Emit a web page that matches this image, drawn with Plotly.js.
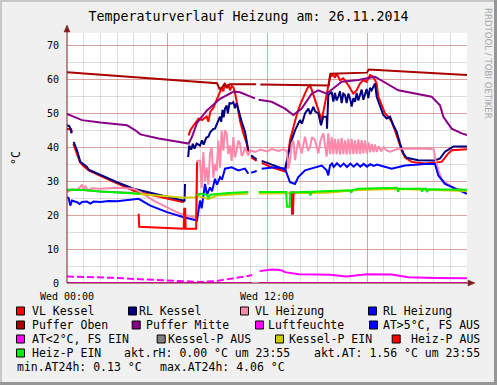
<!DOCTYPE html>
<html><head><meta charset="utf-8">
<script src="https://cdn.plot.ly/plotly-3.0.1.min.js"></script>
<style>html,body{margin:0;padding:0;background:#f0f0f0;}#chart{width:497px;height:385px;}</style>
</head><body><div id="chart"></div>
<script>
// ---------- data (time in hours since Wed 00:00, value in °C) ----------
const xTickVals = [0, 6, 12, 18, 24];
const xTickText = ["Wed 00:00", "", "Wed 12:00", "", ""];
const yTickVals = [0, 10, 20, 30, 40, 50, 60, 70];
const yTickText = ["0", "10", "20", "30", "40", "50", "60", "70"];

const vlKessel = [[0,45.4],[0.25,45.4],[0.3,44.4],[0.33,null],[0.38,41.0],[0.55,38.6],[0.78,35.6],[1.0,34.4],[1.3,33.2],[2.0,31.6],[3.0,29.3],[4.0,27.2],[5.0,26.0],[6.0,25.0],[7.0,23.8],[7.05,null],
[7.3,43.5],[7.4,45.0],[7.6,46.5],[7.9,48.5],[8.1,48.0],[8.38,49.1],[8.48,47.5],[8.6,50.5],[8.78,51.6],[8.98,53.8],[9.08,54.9],[9.18,56.5],[9.28,57.5],[9.38,56.5],[9.48,58.8],[9.58,57.6],[9.68,58.5],[9.78,56.8],[9.88,58.0],[9.98,57.7],[10.08,56.0],[10.18,53.5],[10.28,50.5],[10.38,47.8],[10.58,44.1],[10.78,41.1],[10.88,38.7],[10.95,null],[11.05,37.0],[11.38,36.0],[11.45,null],[11.68,35.4],[12.28,34.1],[13.08,32.9],[13.2,35.5],[13.38,42.1],[13.58,46.0],[13.78,49.5],[13.98,52.4],[14.18,54.9],[14.38,57.0],[14.48,57.8],[14.58,58.3],[14.68,57.0],[14.78,55.4],[14.98,52.4],[15.18,49.5],[15.28,48.0],[15.48,52.9],[15.68,57.8],[15.78,60.8],[15.98,61.3],[16.08,60.5],[16.18,61.7],[16.38,59.8],[16.58,60.3],[16.88,58.3],[17.18,55.8],[17.38,56.8],[17.58,58.8],[17.78,59.8],[17.98,59.3],[18.18,61.3],[18.38,60.8],[18.58,58.8],[18.68,54.9],[18.88,52.4],[19.08,50.0],[19.28,49.0],[19.48,47.5],[19.68,45.0],[19.88,42.1],[20.08,39.1],[20.28,37.0],[20.68,35.7],[21.48,35.2],[22.08,35.4],[22.48,35.7],[22.88,38.2],[23.08,39.1],[24,39.4]];

const rlKessel = [[0,46.5],[0.15,46.2],[0.28,44.1],[0.32,null],[0.4,41.6],[0.6,39.1],[0.8,35.7],[1.2,34.2],[1.3,33.4],[2.0,31.9],[3.0,29.7],[4.0,27.8],[5.0,26.6],[6.0,25.5],[7.0,24.3],[7.05,24.0],[7.08,29.2],[7.12,null],[7.27,37.1],[7.33,40.5],[7.45,39.3],[7.55,41.0],[7.65,39.6],[7.78,41.1],[7.98,40.5],[8.1,42.0],[8.2,40.8],[8.35,42.8],[8.48,43.1],[8.6,44.5],[8.78,45.4],[8.88,45.5],[9.0,47.0],[9.08,47.9],[9.18,49.0],[9.25,47.5],[9.33,51.0],[9.4,48.8],[9.48,51.4],[9.58,52.3],[9.65,50.0],[9.75,53.0],[9.88,52.9],[9.98,53.3],[10.08,51.5],[10.18,53.0],[10.28,51.0],[10.38,49.9],[10.48,47.5],[10.68,44.6],[10.78,42.1],[10.88,39.1],[10.95,null],[11.05,37.6],[11.38,36.4],[11.45,null],[11.68,36.0],[12.28,34.9],[13.08,33.5],[13.28,38.2],[13.48,42.1],[13.68,45.0],[13.98,48.0],[14.1,47.0],[14.28,50.0],[14.48,51.4],[14.6,49.8],[14.78,51.9],[14.9,50.5],[15.08,50.0],[15.24,46.5],[15.38,49.0],[15.58,49.0],[15.6,45.5],[15.68,55.4],[15.88,56.3],[15.98,53.5],[16.08,56.0],[16.18,53.8],[16.28,54.9],[16.38,56.5],[16.48,53.0],[16.58,55.8],[16.68,55.4],[16.78,53.0],[16.88,55.8],[16.98,54.4],[17.08,52.0],[17.18,54.5],[17.28,53.4],[17.38,56.0],[17.48,53.8],[17.58,55.4],[17.68,57.0],[17.78,54.0],[17.88,55.4],[17.98,57.2],[18.08,54.5],[18.18,57.5],[18.28,56.8],[18.38,58.0],[18.48,58.8],[18.58,54.9],[18.78,52.4],[18.98,49.5],[19.18,48.5],[19.38,49.0],[19.58,46.5],[19.78,44.6],[19.98,41.1],[20.18,38.2],[20.38,36.9],[21.08,36.2],[22.08,36.1],[22.38,36.7],[22.68,38.7],[22.98,39.6],[23.18,40.2],[24,40.2]];

const vlHeizung = [[0,26.8],[0.3,27.6],[0.6,27.5],[0.78,28.2],[0.9,29.0],[1.0,27.4],[1.1,28.7],[1.25,27.3],[1.5,27.9],[2.0,27.8],[3.0,28.1],[4.0,27.8],[4.4,26.8],[5.2,24.3],[6.0,22.3],[6.8,20.4],[7.6,19.4],[7.75,19.2],[7.82,36.0],[7.98,36.1],[8.08,28.0],[8.18,38.6],[8.28,30.0],[8.38,34.1],[8.48,29.0],[8.58,38.0],[8.68,40.0],[8.78,31.0],[8.88,35.1],[8.98,33.0],[9.08,42.0],[9.18,34.0],[9.28,44.9],[9.38,39.0],[9.48,45.0],[9.58,44.0],[9.68,38.0],[9.78,40.5],[9.88,36.0],[9.98,43.0],[10.08,37.0],[10.18,39.0],[10.28,42.0],[10.38,41.0],[10.48,37.5],[10.58,38.1],[10.68,40.0],[10.88,37.6],[11.0,39.1],[11.3,38.6],[11.6,39.3],[12.0,38.8],[12.3,39.5],[12.7,38.9],[13.0,39.4],[13.2,38.8],[13.28,33.7],[13.38,36.1],[13.48,41.1],[13.58,42.0],[13.68,36.2],[13.88,42.1],[14.08,38.2],[14.28,43.1],[14.46,39.0],[14.58,40.1],[14.7,43.0],[14.88,42.1],[15.08,38.2],[15.21,42.0],[15.38,44.1],[15.58,37.2],[15.68,44.1],[15.78,38.0],[15.88,43.0],[15.98,38.0],[16.08,42.5],[16.18,38.0],[16.28,42.5],[16.38,37.8],[16.48,42.8],[16.58,38.0],[16.68,42.0],[16.78,37.8],[16.88,42.5],[16.98,38.0],[17.08,42.5],[17.18,38.0],[17.28,42.0],[17.38,38.0],[17.48,42.3],[17.58,38.0],[17.68,42.1],[17.78,38.2],[17.88,42.0],[17.98,38.2],[18.08,41.5],[18.18,38.5],[18.28,41.0],[18.38,38.6],[18.48,40.8],[18.58,38.6],[18.7,40.3],[18.85,38.8],[19.0,40.0],[19.2,39.0],[19.4,38.7],[19.7,39.3],[20.0,39.6],[20.5,39.6],[21.0,39.7],[21.6,39.6],[22.0,39.4],[22.1,36.5],[22.28,33.2],[22.5,30.5],[22.68,29.7],[23.28,27.8],[24,27.3]];

const rlHeizung = [[0,25.3],[0.1,25.0],[0.2,22.8],[0.3,24.3],[0.6,23.8],[0.75,23.3],[0.9,23.9],[1.2,24.0],[1.4,23.4],[1.6,24.0],[2.0,23.9],[2.5,24.2],[3.0,24.1],[3.5,24.3],[4.0,24.5],[4.3,24.8],[5.0,22.8],[6.0,20.9],[7.0,19.4],[7.7,18.4],[7.8,18.4],[7.98,24.3],[8.08,22.0],[8.28,29.2],[8.4,26.0],[8.58,28.2],[8.7,27.0],[8.88,30.7],[9.0,29.0],[9.18,31.2],[9.3,30.5],[9.48,33.7],[9.88,34.1],[10.28,33.2],[10.68,33.7],[10.88,32.2],[10.95,null],[11.05,32.5],[11.38,33.0],[11.45,null],[11.68,33.7],[12.48,34.1],[13.08,33.7],[13.38,29.7],[13.68,29.2],[13.88,31.2],[14.28,33.2],[14.88,34.1],[15.28,34.6],[15.58,33.2],[15.68,31.7],[15.78,34.6],[15.9,35.2],[16.0,34.2],[16.2,35.3],[16.4,34.3],[16.6,35.2],[16.8,34.2],[17.0,35.2],[17.2,34.3],[17.4,35.2],[17.6,34.3],[17.8,35.1],[18.0,34.3],[18.2,35.0],[18.4,34.5],[18.6,34.9],[18.9,34.5],[19.08,34.2],[19.48,33.7],[20.28,34.6],[21.48,35.1],[22.08,35.1],[22.28,31.7],[22.68,29.2],[23.28,27.8],[24,26.3]];

const pufferOben = [[0,62.1],[3,61.0],[6,59.9],[9.0,58.9],[9.15,57.2],[9.3,57.6],[9.45,58.7],[9.6,57.6],[9.75,58.6],[11.35,58.6],[11.45,null],[11.6,58.5],[14.38,58.4],[15.7,58.2],[15.8,61.7],[16.5,61.8],[18.0,62.0],[18.1,62.9],[21,62.1],[24,61.3]];

const pufferMitte = [[0,49.8],[0.9,48.0],[2.0,47.3],[3.6,46.5],[4.1,45.0],[4.4,43.8],[5.5,42.6],[7.3,41.1],[7.5,43.1],[7.8,47.2],[8.38,50.8],[9.18,54.3],[10.0,56.4],[10.38,56.2],[10.98,55.0],[11.28,54.4],[11.35,null],[11.5,54.0],[12.28,53.4],[13.08,51.4],[13.58,49.5],[14.08,51.4],[14.68,55.8],[15.08,56.8],[15.58,55.8],[16.48,59.3],[17.48,59.8],[18.48,60.8],[19.18,58.8],[19.88,56.8],[21.88,54.9],[22.38,52.4],[22.58,49.0],[23.08,45.5],[23.68,44.1],[24,43.6]];

const luftfeuchte = [[0,0],[11.1,0],[11.15,null],[11.5,0],[24,0]];
const atOver5 = [];
const atUnder2 = [[0,1.9],[1,1.8],[2,1.7],[3,1.5],[4,1.2],[5,1.0],[6,0.7],[7,0.5],[8,0.3],[9,0.6],[9.5,1.0],[10.5,1.6],[11.0,2.2],[11.1,2.5],[11.15,null],[11.55,3.5],[12.0,3.7],[12.28,4.0],[12.6,3.9],[12.9,3.7],[13.08,3.2],[13.9,2.6],[15.0,2.5],[15.78,2.4],[16.78,1.9],[17.48,2.2],[18.0,2.6],[19.48,2.5],[20.48,1.7],[22.08,1.5],[24,1.4]];
const kesselPAus = [[0,27.5],[1,27.4],[2,27.0],[3,26.8],[4,26.5]];
const kesselPEin = [[4.0,26.4],[5.0,26.0],[6.0,25.5],[7.0,25.1],[7.75,25.3],[7.9,25.6],[8.48,24.7],[9.0,25.8],[10.88,26.4],[10.95,null],[11.5,26.4],[13.15,26.4],[14.6,26.5],[15.78,26.7],[17.48,27.4],[19.8,27.7],[21.48,27.4],[24,27.1]];
const heizPAus = [[4.3,20.4],[4.33,16.6],[7.0,16.0],[7.03,21.9],[7.09,21.9],[7.12,16.0],[7.75,16.0],[7.8,35.6],[7.82,null],[13.46,27.0],[13.5,20.4],[13.56,20.4],[13.6,27.0]];
const heizPEin = [[0,27.5],[1,27.4],[2,27.0],[3,26.8],[4,26.5],[4.4,26.3],[4.45,null],[7.78,25.8],[7.98,26.3],[8.4,26.0],[8.48,25.0],[8.58,26.0],[9.08,26.3],[9.68,26.5],[10.88,26.8],[10.95,null],[11.5,26.8],[13.15,26.8],[13.2,22.5],[13.36,22.5],[13.4,26.7],[14.55,26.9],[14.6,25.8],[14.68,26.9],[15.78,27.1],[17.0,27.3],[17.06,26.6],[17.12,27.4],[17.48,27.8],[19.8,28.1],[19.86,26.9],[19.95,27.8],[21.25,27.8],[21.3,26.9],[21.35,27.8],[21.55,27.8],[21.6,26.8],[21.68,27.6],[24,27.5]];

const legendNames = ["VL Kessel","RL Kessel","VL Heizung","RL Heizung","Puffer Oben","Puffer Mitte","Luftfeuchte","AT>5°C, FS AUS","AT<2°C, FS EIN","Kessel-P AUS","Kessel-P EIN","Heiz-P AUS","Heiz-P EIN"];
const infoTexts = ["akt.rH: 0.00 °C um 23:55","akt.AT: 1.56 °C um 23:55","min.AT24h: 0.13 °C","max.AT24h: 4.06 °C"];
const titleText = "Temperaturverlauf Heizung am: 26.11.2014";

// ---------- styles ----------
const colors = ["#ff0000","#000080","#ff88aa","#0000ff","#aa0000","#880088","#ff00ff","#0000ff","#ff00ff","#808080","#cccc00","#ff0000","#00ee00"];
const seriesList = [vlKessel,rlKessel,vlHeizung,rlHeizung,pufferOben,pufferMitte,luftfeuchte,atOver5,atUnder2,kesselPAus,kesselPEin,heizPAus,heizPEin];

const mono = "DejaVu Sans Mono, monospace";
const traces = [];
seriesList.forEach((s, i) => {
  if (s === atUnder2) {
    const a = s.filter(p => p[0] <= 11.15), b = s.filter(p => p[0] >= 11.15);
    traces.push({x:a.map(p=>p[0]), y:a.map(p=>p[1]), type:'scatter', mode:'lines', connectgaps:false,
      line:{color:colors[i], width:2, dash:'7px,3px'}});
    traces.push({x:b.map(p=>p[0]), y:b.map(p=>p[1]), type:'scatter', mode:'lines', connectgaps:false,
      line:{color:colors[i], width:2}});
    return;
  }
  traces.push({x:s.map(p=>p[0]), y:s.map(p=>p[1]), type:'scatter', mode:'lines', connectgaps:false,
    line:{color:colors[i], width:2}});
});

// ---------- layout helpers (pixel -> paper) ----------
const L = 67, T = 33, W = 400, H = 250;
const px = x => (x - L) / W;
const py = y => (T + H - y) / H;

const shapes = [];
const annotations = [];
// frame shading
shapes.push({type:'rect', xref:'paper', yref:'paper', x0:px(-1), x1:px(2), y0:py(386), y1:py(-1), fillcolor:'#c8c8c8', line:{width:0}});
shapes.push({type:'rect', xref:'paper', yref:'paper', x0:px(-1), x1:px(498), y0:py(2), y1:py(-1), fillcolor:'#c8c8c8', line:{width:0}});
shapes.push({type:'rect', xref:'paper', yref:'paper', x0:px(494), x1:px(498), y0:py(386), y1:py(-1), fillcolor:'#969696', line:{width:0}});
shapes.push({type:'rect', xref:'paper', yref:'paper', x0:px(-1), x1:px(498), y0:py(386), y1:py(382), fillcolor:'#969696', line:{width:0}});
// axes + arrows
const axisCol = '#7f1f1f';
shapes.push({type:'line', xref:'paper', yref:'paper', x0:0, x1:0, y0:0, y1:py(28), line:{color:axisCol, width:1}});
shapes.push({type:'line', xref:'paper', yref:'paper', x0:0, x1:px(470), y0:0, y1:0, line:{color:axisCol, width:1}});
shapes.push({type:'path', xref:'paper', yref:'paper', path:`M ${px(67)},${py(25)} L ${px(64)},${py(32)} L ${px(70)},${py(32)} Z`, fillcolor:axisCol, line:{color:axisCol, width:0.5}});
shapes.push({type:'path', xref:'paper', yref:'paper', path:`M ${px(475)},${py(283)} L ${px(468)},${py(280)} L ${px(468)},${py(286)} Z`, fillcolor:axisCol, line:{color:axisCol, width:0.5}});

// legend layout (pixel positions)
const legendPos = [
  [16,30.7,311],[128,138,311],[240,254,311],[368,382,311],
  [16,30.7,325],[131.7,145,325],[255,267,325],[369,382,325],
  [16,30.7,339],[156.7,166.7,339],[275,288,339],[391.7,410,339],
  [16,30.7,353]
];
const legFont = {family:mono, size:11.5, color:'#000'};
legendNames.forEach((n, i) => {
  const [sx, tx, cy] = legendPos[i];
  shapes.push({type:'rect', xref:'paper', yref:'paper', x0:px(sx+0.5), x1:px(sx+8.5), y0:py(cy+4), y1:py(cy-4),
    fillcolor:colors[i], line:{color:'#000', width:1}});
  annotations.push({xref:'paper', yref:'paper', x:px(tx-1), y:py(cy), xanchor:'left', yanchor:'middle', showarrow:false, text:n, font:legFont});
});
const infoPos = [[121.5,353],[311.5,353],[15,367],[157.5,367]];
infoTexts.forEach((t, i) => {
  annotations.push({xref:'paper', yref:'paper', x:px(infoPos[i][0]), y:py(infoPos[i][1]), xanchor:'left', yanchor:'middle', showarrow:false, text:t, font:legFont});
});
// y-axis label
annotations.push({xref:'paper', yref:'paper', x:px(16), y:py(158), xanchor:'center', yanchor:'middle', showarrow:false, textangle:-90, text:'°C', font:{family:mono, size:11.5, color:'#000'}});
// watermark
annotations.push({xref:'paper', yref:'paper', x:px(488), y:py(63), xanchor:'center', yanchor:'middle', showarrow:false, textangle:90, text:'RRDTOOL / TOBI OETIKER', font:{family:'DejaVu Sans, sans-serif', size:8.6, color:'#a8a8a8'}});

const layout = {
  width:497, height:385,
  margin:{l:L, r:497-L-W, t:T, b:385-T-H, pad:0},
  paper_bgcolor:'#f0f0f0', plot_bgcolor:'#ffffff',
  showlegend:false, hovermode:false,
  title:{text:titleText, x:0.5, xanchor:'center', y:1-16/385, yanchor:'middle', font:{family:mono, size:13.3, color:'#000'}},
  xaxis:{range:[0,24], tickmode:'array', tickvals:xTickVals, ticktext:xTickText, showgrid:true,
    gridcolor:'rgba(222,80,80,0.42)', gridwidth:1, zeroline:false, showline:false, ticks:'', ticklabelstandoff:6,
    tickfont:{family:mono, size:10, color:'#000'},
    minor:{tickmode:'linear', tick0:0, dtick:1, showgrid:true, gridcolor:'rgba(143,143,143,0.3)', gridwidth:1}},
  yaxis:{range:[0,73.68], tickmode:'array', tickvals:yTickVals, ticktext:yTickText, showgrid:true,
    gridcolor:'rgba(222,80,80,0.42)', gridwidth:1, zeroline:false, showline:false, ticks:'', ticklabelstandoff:7,
    tickfont:{family:mono, size:10, color:'#000'},
    minor:{tickmode:'linear', tick0:0, dtick:5, showgrid:true, gridcolor:'rgba(143,143,143,0.3)', gridwidth:1}},
  shapes:shapes, annotations:annotations
};
Plotly.newPlot('chart', traces, layout, {staticPlot:true, displayModeBar:false});
</script></body></html>
